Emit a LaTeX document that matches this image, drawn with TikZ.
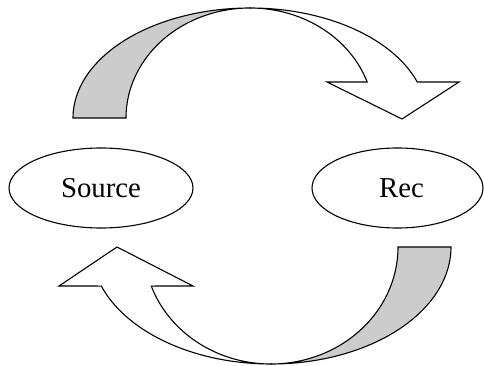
\documentclass[tikz,border=0pt]{standalone}
\usepackage{fontspec}
\setmainfont{Liberation Serif}
\usetikzlibrary{shapes.geometric}
\definecolor{bandgray}{RGB}{204,204,204}
\begin{document}
\begin{tikzpicture}[x=1pt,y=-1pt, line width=1.1pt, line join=miter,
  place/.style={draw, ellipse, minimum width=184pt, minimum height=80pt, inner sep=0pt,
    font=\fontsize{28.8}{34}\selectfont},
  backband/.style={draw, fill=bandgray},
  frontband/.style={draw, fill=white}]
\useasboundingbox (0,0) rectangle (484,366);
% ellipses
\node[place] (src) at (101,188) {Source};
\node[place, minimum width=171pt] (rec) at (397.5,188) {\hspace*{8pt}Rec};
% top curved arrow (Source -> Rec)
\draw[backband] plot[domain=180:270, samples=60] ({250+177*cos(\x)},{118+110*sin(\x)})
  -- plot[domain=270:180, samples=60] ({250+124*cos(\x)},{118+110*sin(\x)}) -- cycle;
\draw[frontband] plot[domain=270:340.9, samples=60] ({250+177*cos(\x)},{118+110*sin(\x)})
  -- (459,82) -- (402,119) -- (327,82)
  -- plot[domain=340.9:270, samples=60] ({250+124*cos(\x)},{118+110*sin(\x)}) -- cycle;
% bottom curved arrow (Rec -> Source)
\draw[backband] plot[domain=0:90, samples=60] ({271+180*cos(\x)},{247+117*sin(\x)})
  -- plot[domain=90:0, samples=60] ({271+127*cos(\x)},{247+117*sin(\x)}) -- cycle;
\draw[frontband] plot[domain=90:160.5, samples=60] ({271+180*cos(\x)},{247+117*sin(\x)})
  -- (59,286) -- (117,247) -- (193,286)
  -- plot[domain=160.5:90, samples=60] ({271+127*cos(\x)},{247+117*sin(\x)}) -- cycle;
\end{tikzpicture}
\end{document}
